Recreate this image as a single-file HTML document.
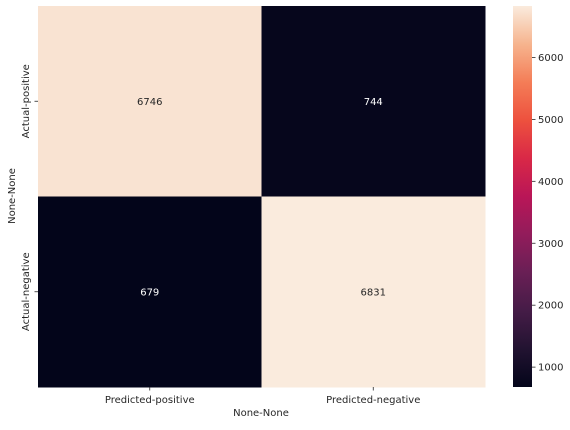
<!DOCTYPE html>
<html><head><meta charset="utf-8"><style>
body{margin:0;background:#fff;}
svg text{font-family:"DejaVu Sans","Liberation Sans",sans-serif;font-size:10px;fill:#262626;}
</style></head><body>
<svg width="570" height="425" xmlns="http://www.w3.org/2000/svg">
<defs>
<linearGradient id="rocket" x1="0" y1="0" x2="0" y2="1">
<stop offset="0" stop-color="#faebdd"/>
<stop offset="0.1" stop-color="#f6b48e"/>
<stop offset="0.2" stop-color="#f47d57"/>
<stop offset="0.3" stop-color="#ed513e"/>
<stop offset="0.4" stop-color="#d92847"/>
<stop offset="0.5" stop-color="#b91657"/>
<stop offset="0.6" stop-color="#921c5b"/>
<stop offset="0.7" stop-color="#691f55"/>
<stop offset="0.8" stop-color="#451c47"/>
<stop offset="0.9" stop-color="#221331"/>
<stop offset="1" stop-color="#03051a"/>
</linearGradient>
</defs>
<g id="cells"></g>
<g id="cbar">
<rect x="513" y="6" width="19" height="381" fill="url(#rocket)"/>
</g>
<text x="261" y="416" text-anchor="middle">None-None</text>
<text transform="translate(15,196) rotate(-90)" text-anchor="middle">None-None</text>
</svg>
<script>
const rows=["Actual-positive","Actual-negative"];
const cols=["Predicted-positive","Predicted-negative"];
const values=[[6746,744],[679,6831]];
const cbarTicks=[1000,2000,3000,4000,5000,6000];
const stops=["#03051a","#221331","#451c47","#691f55","#921c5b","#b91657","#d92847","#ed513e","#f47d57","#f6b48e","#faebdd"];
const NS="http://www.w3.org/2000/svg";
const L=38,R=485,T=6,B=387;
const flat=values.flat();const vmin=Math.min(...flat),vmax=Math.max(...flat);
function hex(h){return [1,3,5].map(i=>parseInt(h.substr(i,2),16));}
function colorT(tt){let t=tt*(stops.length-1);let i=Math.min(Math.floor(t),stops.length-2);let f=t-i;let a=hex(stops[i]),b=hex(stops[i+1]);return "rgb("+a.map((x,k)=>Math.round(x+(b[k]-x)*f)).join(",")+")";}
function color(v){return colorT((v-vmin)/(vmax-vmin));}
function mk(tag,attrs,parent){const e=document.createElementNS(NS,tag);for(const k in attrs)e.setAttribute(k,attrs[k]);parent.appendChild(e);return e;}
const g=document.getElementById("cells");const svg=document.querySelector("svg");
const cw=(R-L)/cols.length,ch=(B-T)/rows.length;
rows.forEach((r,i)=>cols.forEach((c,j)=>{
 const v=values[i][j];
 const rc=mk("rect",{x:L+j*cw,y:T+i*ch,width:cw+0.5,height:ch+0.5,fill:color(v)},g);
 
 
 const t=mk("text",{x:L+(j+0.5)*cw,y:T+(i+0.5)*ch+3.5,"text-anchor":"middle"},g);
 
 
 t.style.fill=(v-vmin)/(vmax-vmin)>0.5?"#262626":"#ffffff";t.textContent=v;
}));
cols.forEach((c,j)=>{const x=L+(j+0.5)*cw;
 mk("line",{x1:x,x2:x,y1:B,y2:B+3.5,stroke:"#262626","stroke-width":0.8},svg);
 const t=mk("text",{x:x,y:B+16,"text-anchor":"middle"},svg);
 
 
 t.textContent=c;});
rows.forEach((r,i)=>{const y=T+(i+0.5)*ch;
 mk("line",{x1:L-3.5,x2:L,y1:y,y2:y,stroke:"#262626","stroke-width":0.8},svg);
 const t=mk("text",{transform:`translate(${L-9},${y}) rotate(-90)`,"text-anchor":"middle"},svg);
 
 
 t.textContent=r;});
const cb=document.getElementById("cbar");const CX=513,CW=19;
cbarTicks.forEach(v=>{const y=B-(v-vmin)/(vmax-vmin)*(B-T);
 mk("line",{x1:CX+CW,x2:CX+CW+3.5,y1:y,y2:y,stroke:"#262626","stroke-width":0.8},cb);
 const t=mk("text",{x:CX+CW+6,y:y+3.5},cb);
 
 
 t.textContent=v;});
</script>
</body></html>
